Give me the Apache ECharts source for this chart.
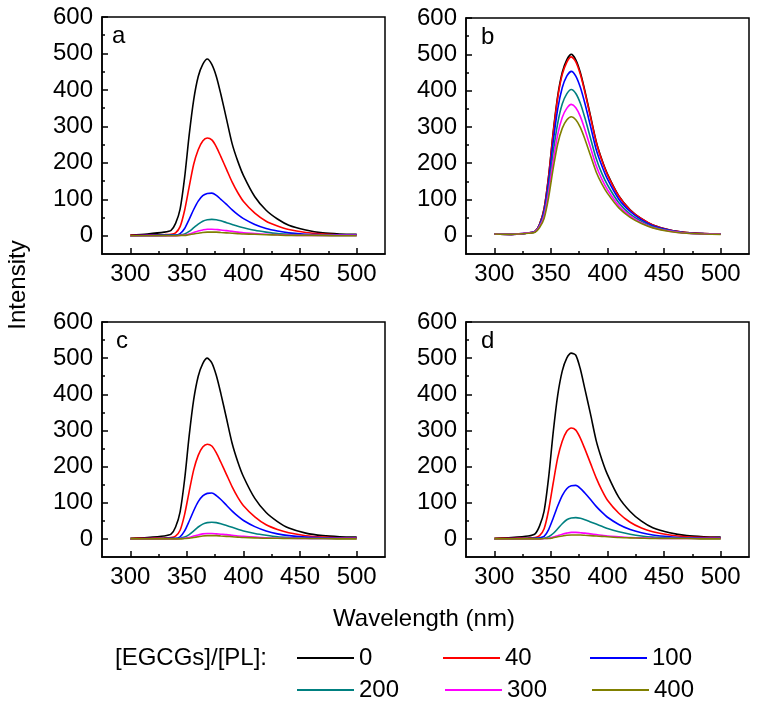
<!DOCTYPE html>
<html>
<head>
<meta charset="utf-8">
<script src="https://cdn.jsdelivr.net/npm/echarts@6/dist/echarts.min.js"></script>
<style>
  html, body { margin: 0; padding: 0; background: #fff; }
  #main { width: 757px; height: 705px; }
</style>
</head>
<body>
<div id="main"></div>
<script>
// wavelength (nm) sample points, shared by every spectrum
var wavelengths = [300, 315, 330, 336, 340, 344, 348, 352, 356, 360, 364, 368, 372, 376, 380, 385, 390, 395, 400, 410, 420, 430, 440, 455, 470, 485, 500];

var ratios = ["0", "40", "100", "200", "300", "400"];
var colors = ["#000000", "#ff0000", "#0000ff", "#008080", "#ff00ff", "#808000"];
var panelLetters = ["a", "b", "c", "d"];

var xTicks = [300, 350, 400, 450, 500];
var xMinorTicks = [325, 375, 425, 475];
var yTicks = [0, 100, 200, 300, 400, 500, 600];
var yMinorTicks = [50, 150, 250, 350, 450, 550];

// intensities, one row per ratio (0, 40, 100, 200, 300, 400)
var spectraA = [
    [2, 5, 10, 15, 34, 73, 160, 276, 373, 437, 470, 485, 470, 437, 388, 320, 252, 204, 165, 107, 70, 46, 29, 16, 8, 5, 4],
    [1, 2, 3, 4, 8, 25, 70, 134, 196, 236, 260, 268, 263, 244, 217, 182, 147, 118, 94, 62, 40, 27, 17, 9, 5, 3, 3],
    [0, 1, 1, 2, 2, 6, 20, 45, 72, 95, 110, 116, 117, 111, 100, 86, 71, 58, 47, 31, 20, 13, 8, 4, 3, 2, 2],
    [0, 0, 1, 1, 1, 2, 5, 12, 22, 32, 40, 44, 45, 44, 41, 36, 31, 26, 22, 15, 10, 6, 4, 2, 1, 1, 1],
    [0, 0, 0, 0, 0, 1, 2, 5, 9, 13, 16, 18, 18, 17, 16, 14, 12, 10, 8, 6, 4, 3, 2, 1, 1, 1, 1],
    [0, 0, 0, 0, 0, 1, 1, 3, 5, 7, 9, 10, 10, 10, 9, 8, 7, 6, 5, 4, 3, 2, 1, 1, 1, 0, 0]
];
var spectraB = [
    [5, 4, 8, 12, 32, 75, 165, 285, 385, 450, 485, 500, 485, 450, 400, 330, 260, 210, 170, 110, 72, 47, 30, 16, 9, 6, 5],
    [5, 4, 8, 12, 32, 74, 163, 281, 380, 444, 478, 493, 479, 445, 396, 327, 258, 208, 168, 109, 71, 47, 30, 16, 9, 6, 5],
    [5, 4, 8, 12, 30, 68, 150, 258, 349, 408, 440, 453, 440, 409, 365, 302, 238, 193, 156, 101, 67, 44, 28, 15, 8, 6, 5],
    [5, 4, 8, 11, 28, 61, 133, 230, 310, 363, 391, 403, 392, 365, 325, 269, 213, 172, 140, 91, 60, 40, 25, 14, 8, 5, 5],
    [5, 4, 8, 11, 26, 55, 120, 206, 279, 326, 351, 362, 353, 329, 293, 243, 193, 156, 127, 83, 55, 36, 23, 13, 7, 5, 5],
    [5, 4, 7, 10, 23, 48, 106, 185, 253, 296, 319, 328, 320, 299, 267, 221, 176, 143, 117, 77, 51, 34, 22, 12, 7, 5, 4]
];
var spectraC = [
    [2, 4, 8, 13, 33, 75, 165, 285, 385, 450, 485, 500, 487, 452, 402, 333, 264, 213, 172, 112, 73, 48, 30, 16, 9, 6, 5],
    [1, 2, 3, 4, 8, 24, 68, 131, 191, 231, 254, 262, 257, 238, 212, 178, 144, 115, 92, 61, 39, 26, 17, 9, 5, 3, 3],
    [0, 1, 1, 2, 2, 6, 22, 49, 78, 103, 119, 126, 127, 120, 109, 93, 77, 63, 51, 34, 22, 14, 9, 5, 3, 2, 2],
    [0, 0, 1, 1, 1, 2, 5, 12, 22, 33, 41, 45, 46, 45, 42, 37, 32, 27, 22, 15, 10, 6, 4, 2, 1, 1, 1],
    [0, 0, 0, 0, 0, 1, 2, 4, 8, 11, 14, 15, 15, 14, 13, 12, 10, 8, 7, 5, 3, 2, 2, 1, 1, 1, 1],
    [0, 0, 0, 0, 0, 0, 1, 2, 4, 6, 8, 9, 9, 9, 8, 7, 6, 5, 4, 3, 2, 2, 1, 1, 1, 0, 0]
];
var spectraD = [
    [2, 4, 8, 14, 36, 77, 170, 294, 397, 464, 500, 514, 508, 470, 415, 345, 272, 220, 178, 115, 76, 49, 31, 17, 9, 6, 5],
    [1, 2, 3, 4, 9, 28, 80, 154, 224, 270, 298, 307, 301, 279, 249, 209, 169, 135, 107, 71, 46, 30, 20, 11, 6, 4, 3],
    [0, 1, 1, 2, 3, 7, 26, 57, 91, 120, 139, 147, 148, 140, 127, 109, 90, 74, 60, 40, 26, 17, 11, 6, 3, 2, 2],
    [0, 0, 1, 1, 1, 2, 6, 15, 28, 42, 53, 58, 59, 57, 53, 47, 41, 35, 29, 20, 13, 8, 5, 3, 2, 1, 1],
    [0, 0, 0, 0, 0, 1, 2, 5, 9, 13, 16, 18, 18, 17, 16, 14, 12, 10, 8, 6, 4, 3, 2, 1, 1, 1, 1],
    [0, 0, 0, 0, 0, 1, 1, 3, 6, 8, 10, 11, 11, 11, 10, 9, 8, 7, 6, 4, 3, 2, 1, 1, 1, 0, 0]
];

var panels = [spectraA, spectraB, spectraC, spectraD];

var FONT = "'Liberation Sans', Arial, sans-serif";
var FS = 24;

// plot boxes in pixels
var grids = [
    {left: 102, top: 17, width: 283, height: 237},
    {left: 466, top: 18, width: 283, height: 236},
    {left: 102, top: 322, width: 283, height: 235},
    {left: 466, top: 322, width: 283, height: 235}
];
var letterPos = [[112, 36], [481, 37], [116, 341], [481, 341]];
// legend entries: left edge of the line sample, row centre
var legendPos = [[297, 658], [443, 658], [590, 658], [297, 690], [445, 690], [592, 690]];

var line = {color: "#000", width: 1.5};

var xAxes = [], yAxes = [], series = [], graphics = [];

grids.forEach(function (g, i) {
    g.show = true;
    g.borderColor = "#000";
    g.borderWidth = 1.5;
    g.containLabel = false;

    xAxes.push({
        gridIndex: i, type: "value", min: 275, max: 525, position: "bottom",
        axisLine: {show: true, onZero: false, lineStyle: line},
        axisTick: {show: true, inside: true, length: 6, customValues: xTicks, lineStyle: line},
        axisLabel: {customValues: xTicks, fontSize: FS, fontFamily: FONT, color: "#000", margin: 8},
        splitLine: {show: false}
    });
    xAxes.push({
        gridIndex: i, type: "value", min: 275, max: 525, position: "bottom", offset: 0,
        axisLine: {show: false, onZero: false},
        axisTick: {show: true, inside: true, length: 3, customValues: xMinorTicks, lineStyle: line},
        axisLabel: {show: false},
        splitLine: {show: false}
    });
    yAxes.push({
        gridIndex: i, type: "value", min: -50, max: 600, position: "left",
        axisLine: {show: true, onZero: false, lineStyle: line},
        axisTick: {show: true, inside: true, length: 6, customValues: yTicks, lineStyle: line},
        axisLabel: {customValues: yTicks, fontSize: FS, fontFamily: FONT, color: "#000", margin: 9},
        splitLine: {show: false}
    });
    yAxes.push({
        gridIndex: i, type: "value", min: -50, max: 600, position: "left", offset: 0,
        axisLine: {show: false, onZero: false},
        axisTick: {show: true, inside: true, length: 3, customValues: yMinorTicks, lineStyle: line},
        axisLabel: {show: false},
        splitLine: {show: false}
    });

    panels[i].forEach(function (vals, j) {
        series.push({
            type: "line",
            name: ratios[j],
            xAxisIndex: 2 * i,
            yAxisIndex: 2 * i,
            data: wavelengths.map(function (w, k) { return [w, vals[k]]; }),
            symbol: "none",
            smooth: 0.25,
            lineStyle: {color: colors[j], width: 1.6},
            itemStyle: {color: colors[j]},
            animation: false
        });
    });

    graphics.push({
        type: "text",
        style: {
            text: panelLetters[i], x: letterPos[i][0], y: letterPos[i][1],
            fontSize: FS, fontFamily: FONT, fill: "#000", verticalAlign: "middle"
        }
    });
});

graphics.push({
    type: "text",
    style: {text: "Intensity", x: 0, y: 0, fontSize: FS, fontFamily: FONT, fill: "#000",
        align: "center", verticalAlign: "middle"},
    x: 18, y: 285, rotation: Math.PI / 2
});
graphics.push({
    type: "text",
    style: {text: "Wavelength (nm)", x: 424, y: 619, fontSize: FS, fontFamily: FONT, fill: "#000",
        align: "center", verticalAlign: "middle"}
});
graphics.push({
    type: "text",
    style: {text: "[EGCGs]/[PL]:", x: 115, y: 658, fontSize: FS, fontFamily: FONT, fill: "#000",
        align: "left", verticalAlign: "middle"}
});

// one legend block per ratio so the columns line up like the original
var legends = ratios.map(function (r, j) {
    return {
        data: [r],
        left: legendPos[j][0], top: legendPos[j][1] - 12,
        orient: "horizontal",
        icon: "rect",
        itemWidth: 57, itemHeight: 2,
        selectedMode: false,
        padding: 0,
        textStyle: {fontSize: FS, fontFamily: FONT, color: "#000"}
    };
});

var chart = echarts.init(document.getElementById("main"), null, {renderer: "canvas"});
chart.setOption({
    backgroundColor: "#fff",
    animation: false,
    grid: grids,
    xAxis: xAxes,
    yAxis: yAxes,
    legend: legends,
    graphic: graphics,
    series: series
});
</script>
</body>
</html>
